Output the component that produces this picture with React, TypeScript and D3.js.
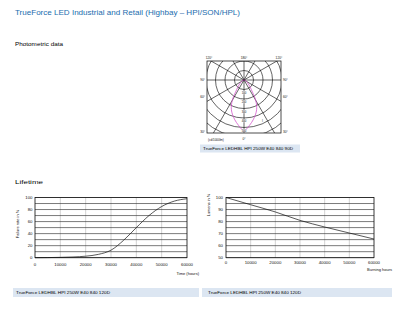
import React from "react";
import * as d3 from "d3";

const TITLE = "TrueForce LED Industrial and Retail (Highbay – HPI/SON/HPL)";
const SECTION_PHOTO = "Photometric data";
const SECTION_LIFE = "Lifetime";
const CAPTION_POLAR = "TrueForce LEDHBL HPI 250W E40 840 90D";
const CAPTION_LIFE = "TrueForce LEDHBL HPI 250W E40 840 120D";

const failureHours = [0, 5000, 10000, 15000, 20000, 25000, 30000, 35000, 40000, 45000, 50000, 55000, 60000];
const failureRate = [0, 0.2, 0.6, 1.2, 2.5, 5.5, 12.5, 29, 50, 70, 85, 94, 98];
const lumenHours = [0, 10000, 20000, 30000, 40000, 50000, 60000];
const lumenPercent = [100, 94, 88, 81, 75.5, 70.5, 65.5];
const hourTicks = [0, 10000, 20000, 30000, 40000, 50000, 60000];
const failureTicks = [0, 20, 40, 60, 80, 100];
const lumenTicks = [50, 60, 70, 80, 90, 100];

const polarGamma = [0, 2, 13, 23, 30, 37, 45, 60, 75, 90];
const polarIntensity = [540, 525, 430, 340, 245, 130, 75, 30, 10, 0];
const polarRings = [100, 200, 300, 400, 500, 600, 700];
const ringLabels = ["100", "200", "300", "400", "500"];
const radialAngles = [0, 30, 60, 90, 120, 150, 180, 210, 240, 270, 300, 330];
const topAngleLabels = ["120°", "180°", "120°"];
const sideAngleLabels = ["90°", "60°", "30°"];
const polarUnit = "(cd/1000lm)";
const bottomAngleLabel = "0°";

const FONT = "'Liberation Sans', Arial, sans-serif";

export default function App() {
  // ---------- Polar ----------
  const frame = { x0: 207, x1: 281, y0: 61, y1: 133 };
  const cx = 244, cy = 80;
  const rScale = d3.scaleLinear().domain([0, 100]).range([0, 9.5]);
  const toRad = (d: number) => (d * Math.PI) / 180;
  const rightPts = polarGamma.map((g, i) => {
    const r = rScale(polarIntensity[i]);
    return [cx + r * Math.sin(toRad(g)), cy + r * Math.cos(toRad(g))] as [number, number];
  });
  const leftPts = polarGamma
    .map((g, i) => {
      const r = rScale(polarIntensity[i]);
      return [cx - r * Math.sin(toRad(g)), cy + r * Math.cos(toRad(g))] as [number, number];
    })
    .reverse();
  const polarPts = [...leftPts, ...rightPts.slice(1)];
  const polarPath = d3.line().curve(d3.curveCatmullRom.alpha(0.5))(polarPts) || "";

  const topLabelX = [
    cx - (cy - frame.y0) / Math.tan(toRad(30)) - 2,
    cx,
    cx + (cy - frame.y0) / Math.tan(toRad(30)) + 2,
  ];
  const sideLabelY = [cy, 97, 132];

  // ---------- Left chart ----------
  const xL = d3.scaleLinear().domain([0, 60000]).range([35, 187]);
  const yL = d3.scaleLinear().domain([0, 100]).range([257.7, 197.5]);
  const failLine = d3
    .line<number>()
    .x((_, i) => xL(failureHours[i]))
    .y((d) => yL(d))
    .curve(d3.curveMonotoneX)(failureRate) || "";

  // ---------- Right chart ----------
  const xR = d3.scaleLinear().domain([0, 60000]).range([226, 374]);
  const yR = d3.scaleLinear().domain([50, 100]).range([257.7, 197.5]);
  const lumenLine = d3
    .line<number>()
    .x((_, i) => xR(lumenHours[i]))
    .y((d) => yR(d))
    .curve(d3.curveMonotoneX)(lumenPercent) || "";

  const tickFont = 4.3;
  const gridH = "#333";
  const gridV = "#b5b5b5";

  return (
    <svg
      width={400}
      height={309}
      viewBox="0 0 400 309"
      style={{ position: "absolute", left: 0, top: 0, background: "#fff" }}
      fontFamily={FONT}
    >
      <rect x={0} y={0} width={400} height={309} fill="#fff" />
      {/* Title */}
      <text x={15} y={15} fontSize={7.6} fill="#1a6cae" textLength={225} lengthAdjust="spacingAndGlyphs">
        {TITLE}
      </text>
      <text x={15} y={46} fontSize={5.3} fill="#000" textLength={48} lengthAdjust="spacingAndGlyphs">
        {SECTION_PHOTO}
      </text>

      {/* Polar chart */}
      <defs>
        <clipPath id="pclip">
          <rect x={frame.x0} y={frame.y0} width={frame.x1 - frame.x0} height={frame.y1 - frame.y0} />
        </clipPath>
      </defs>
      <g clipPath="url(#pclip)">
        {polarRings.map((v) => (
          <circle key={v} cx={cx} cy={cy} r={rScale(v)} fill="none" stroke="#111" strokeWidth={0.65} />
        ))}
        {radialAngles.map((a) => (
          <line
            key={a}
            x1={cx}
            y1={cy}
            x2={cx + 150 * Math.sin(toRad(a))}
            y2={cy + 150 * Math.cos(toRad(a))}
            stroke="#111"
            strokeWidth={0.65}
          />
        ))}
        <path d={polarPath} fill="none" stroke="#d04cc8" strokeWidth={0.75} />
        {ringLabels.map((t, i) => (
          <text
            key={t}
            x={cx}
            y={cy + rScale(polarRings[i]) + 4.3}
            fontSize={2.8}
            textAnchor="middle"
            fill="#111"
            stroke="#fff"
            strokeWidth={0.5}
            paintOrder="stroke"
          >
            {t}
          </text>
        ))}
        <text x={262} y={122} fontSize={3} fill="#111">
          {"I →"}
        </text>
      </g>
      <rect
        x={frame.x0}
        y={frame.y0}
        width={frame.x1 - frame.x0}
        height={frame.y1 - frame.y0}
        fill="none"
        stroke="#111"
        strokeWidth={0.75}
      />
      {topAngleLabels.map((t, i) => (
        <text key={i} x={topLabelX[i]} y={59} fontSize={3.2} textAnchor="middle" fill="#111">
          {t}
        </text>
      ))}
      {sideAngleLabels.map((t, i) => (
        <g key={i}>
          <text x={frame.x0 - 2} y={sideLabelY[i] + 1} fontSize={3.2} textAnchor="end" fill="#111">
            {t}
          </text>
          <text x={frame.x1 + 2} y={sideLabelY[i] + 1} fontSize={3.2} textAnchor="start" fill="#111">
            {t}
          </text>
        </g>
      ))}
      <text x={208} y={140.5} fontSize={3} fill="#111">
        {polarUnit}
      </text>
      <text x={cx} y={139.5} fontSize={3.2} textAnchor="middle" fill="#111">
        {bottomAngleLabel}
      </text>
      <rect x={200} y={144.5} width={100} height={8} fill="#dce6f2" />
      <text x={203} y={150.2} fontSize={3.9} fill="#000" textLength={90} lengthAdjust="spacingAndGlyphs">
        {CAPTION_POLAR}
      </text>

      {/* Lifetime heading */}
      <text x={15} y={184} fontSize={5.3} fill="#000" textLength={28} lengthAdjust="spacingAndGlyphs">
        {SECTION_LIFE}
      </text>

      {/* Left chart */}
      {hourTicks.map((h) => (
        <line key={h} x1={xL(h)} x2={xL(h)} y1={197.5} y2={257.7} stroke={gridV} strokeWidth={0.6} />
      ))}
      {yL.ticks(10).map((v) => (
        <line key={v} x1={35} x2={187} y1={yL(v)} y2={yL(v)} stroke={gridH} strokeWidth={0.65} />
      ))}
      <rect x={35} y={197.5} width={152} height={60.2} fill="none" stroke="#111" strokeWidth={0.7} />
      <path d={failLine} fill="none" stroke="#111" strokeWidth={0.7} />
      {failureTicks.map((v) => (
        <text key={v} x={32.5} y={yL(v) + 1.5} fontSize={tickFont} textAnchor="end" fill="#111">
          {v}
        </text>
      ))}
      {hourTicks.map((h) => (
        <text key={h} x={xL(h)} y={265.5} fontSize={tickFont} textAnchor="middle" fill="#111">
          {h}
        </text>
      ))}
      <text
        transform={`translate(18.5,224) rotate(-90)`}
        fontSize={3.9}
        textAnchor="middle"
        fill="#111"
      >
        Failure rate in %
      </text>
      <text x={199} y={274.5} fontSize={4} textAnchor="end" fill="#111">
        Time (hours)
      </text>

      {/* Right chart */}
      {hourTicks.map((h) => (
        <line key={h} x1={xR(h)} x2={xR(h)} y1={197.5} y2={257.7} stroke={gridV} strokeWidth={0.6} />
      ))}
      {yR.ticks(10).map((v) => (
        <line key={v} x1={226} x2={374} y1={yR(v)} y2={yR(v)} stroke={gridH} strokeWidth={0.65} />
      ))}
      <rect x={226} y={197.5} width={148} height={60.2} fill="none" stroke="#111" strokeWidth={0.7} />
      <path d={lumenLine} fill="none" stroke="#111" strokeWidth={0.7} />
      {lumenTicks.map((v) => (
        <text key={v} x={223} y={yR(v) + 1.5} fontSize={tickFont} textAnchor="end" fill="#111">
          {v}
        </text>
      ))}
      {hourTicks.map((h) => (
        <text key={h} x={xR(h)} y={264} fontSize={tickFont} textAnchor="middle" fill="#111">
          {h}
        </text>
      ))}
      <text
        transform={`translate(209.5,205) rotate(-90)`}
        fontSize={3.9}
        textAnchor="middle"
        fill="#111"
      >
        Lumens in %
      </text>
      <text x={392} y={270.5} fontSize={4} textAnchor="end" fill="#111">
        Burning hours
      </text>

      {/* Captions */}
      <rect x={13} y={288} width={186} height={9} fill="#dce6f2" />
      <text x={16} y={294.2} fontSize={3.9} fill="#000" textLength={94} lengthAdjust="spacingAndGlyphs">
        {CAPTION_LIFE}
      </text>
      <rect x={202} y={288} width={190} height={9} fill="#dce6f2" />
      <text x={208} y={294.2} fontSize={3.9} fill="#000" textLength={93} lengthAdjust="spacingAndGlyphs">
        {CAPTION_LIFE}
      </text>
    </svg>
  );
}
